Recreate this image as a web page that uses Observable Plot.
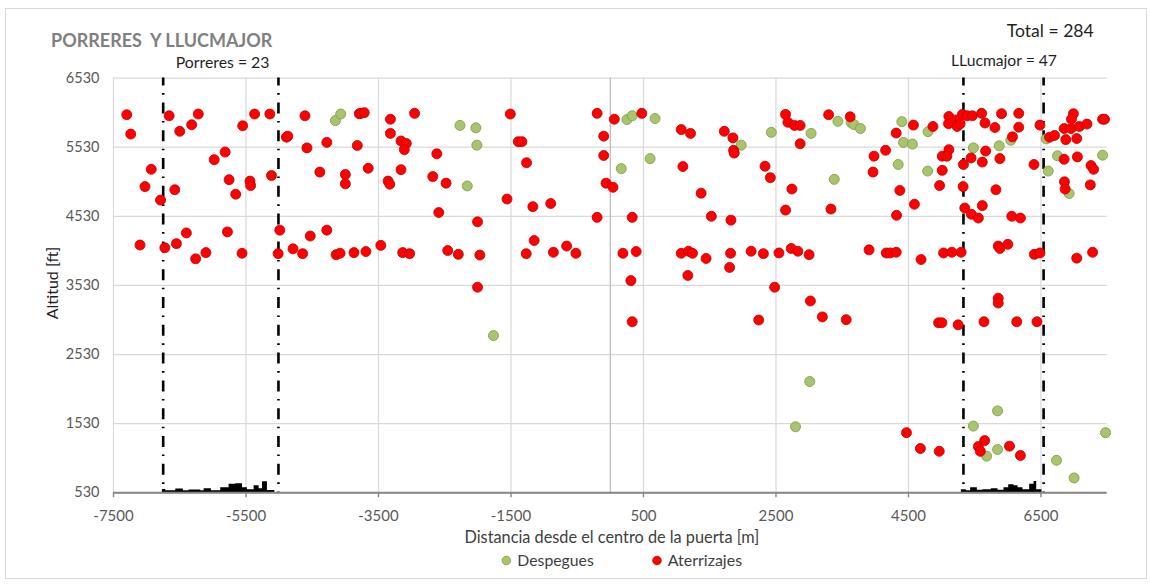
<!DOCTYPE html>
<html>
<head>
<meta charset="utf-8">
<script src="https://cdn.jsdelivr.net/npm/d3@7"></script>
<script src="https://cdn.jsdelivr.net/npm/@observablehq/plot@0.6"></script>
<style>
  html, body { margin: 0; padding: 0; background: #fff; }
  #wrap { position: relative; width: 1151px; height: 587px; font-family: Lato, "Open Sans", sans-serif; }
  #wrap > svg { position: absolute; left: 0; top: 0; }
</style>
</head>
<body>
<div id="wrap"></div>
<script>
// ---- Data ----
const xTicks = [-7500, -5500, -3500, -1500, 500, 2500, 4500, 6500];
const yTicks = [530, 1530, 2530, 3530, 4530, 5530, 6530];
const zoneBounds = [-6750, -5010, 5330, 6540];

// Despegues (take-offs)
const despX = [-4150, -4070, -2270, -2030, -2015, -2160, 250, 330, 675, 165, 600, 1975, 2430, 3030, 3435, 3635, 3675, 3775, 3380, 4400, 4425, 4560, 4345, 4795, 4790, 5480, 5870, 6045, 6580, 6610, 6750, 6925, 7430, -1765, 3010, 2795, 5480, 5845, 5845, 5680, 6735, 7000, 7475];
const despY = [5915, 6010, 5845, 5810, 5560, 4970, 5930, 5985, 5945, 5220, 5365, 5560, 5745, 5730, 5905, 5885, 5860, 5800, 5065, 5900, 5600, 5575, 5280, 5755, 5185, 5520, 5550, 5630, 5650, 5185, 5405, 4860, 5415, 2805, 2140, 1485, 1495, 1715, 1157, 1060, 1000, 745, 1400];

// Aterrizajes (landings)
const aterrX = [-7300, -7240, -6660, -6500, -6320, -6220, -5550, -5370, -5140, -4890, -4870, -4610, -4580, -4280, -3820, -3790, -3765, -3715, -3320, -3320, -3160, -3080, -3110, -2955, -2620, -2480, -2590, -2680,
  -6930, -7025, -6790, -6575, -5980, -5815, -5755, -5655, -5440, -5430, -5115, -4385, -4000, -4000, -3655, -3355, -3330, -3160,
  -7100, -6725, -6550, -6400, -6260, -6105, -5780, -5560, -4990, -5015, -4790, -4645, -4530, -4280, -4140, -4080, -3870, -3690, -3465, -3135, -3030, -2455,
  -1510, -1390, -1335, -1265, -1560, -1170, -900, -2005, -2295, -1970, -2005, -1150, -1270, -860, -660, -520,
  -200, 60, 475, -100, -100, -65, 40, -200, 330, 190, 390, 310, 330,
  1070, 1210, 1720, 1850, 1860, 1870, 1095, 1370, 1525, 1820, 1070, 1180, 1240, 1445, 1815, 1800, 1170,
  2125, 2310, 2545, 2730, 2830, 3000, 2335, 2415, 2740, 2645, 2480, 2645, 2680, 2780, 2865, 2865,
  3295, 3620, 3980, 4155, 3965, 3330, 4315, 4370, 4320, 4590, 4575, 4870,
  5110, 5105, 5220, 5235, 5280, 5315, 5385, 5465, 5605, 5655, 5905, 6165, 5805, 6165, 6070, 6485,
  5110, 5010, 5080, 5010, 4970, 5330, 5445, 5615, 5665, 5880, 5325, 5820, 5350, 5450, 5555, 5615, 6060, 6190, 6395,
  6630, 6705, 6850, 6955, 6990, 6960, 7080, 7195, 6875, 7040, 7430, 7460, 6850, 7050, 7255, 7295, 6855, 6865, 7245,
  3905, 4165, 4225, 4315, 4690, 5030, 5155, 5295, 5855, 5880, 6000, 6400, 6485, 7040, 7280,
  2240, 3020, 3200, 3560, 4955, 5005, 5250, 5855, 5855, 5640, 6135, 6440,
  4470, 4680, 4965, 5555, 5585, 5650, 6025, 6190];
const aterrY = [6000, 5720, 5985, 5760, 5855, 6010, 5840, 6010, 6010, 5675, 5690, 5985, 5520, 5600, 5555, 6015, 6020, 6030, 5935, 5730, 5620, 5585, 5495, 6020, 5435, 5010, 4585, 5105,
  5210, 4960, 4765, 4915, 5350, 5460, 5060, 4850, 5040, 4975, 5120, 5170, 5135, 5000, 5225, 5040, 4995, 5205,
  4115, 4075, 4135, 4290, 3915, 4005, 4305, 3995, 4330, 3990, 4060, 3990, 4245, 4330, 3975, 3995, 4005, 4020, 4110, 4005, 3990, 4035,
  6010, 5610, 5610, 5305, 4780, 4670, 4715, 4450, 3980, 3970, 3505, 4180, 3990, 4010, 4100, 3995,
  6020, 5935, 6020, 5690, 5410, 5010, 4950, 4515, 4515, 3995, 4020, 3600, 3005,
  5785, 5730, 5760, 5665, 5485, 5445, 5250, 4865, 4530, 4475, 3995, 4025, 3995, 3920, 3995, 3790, 3675,
  4025, 3990, 4000, 4065, 4025, 3975, 5255, 5090, 4925, 4620, 3505, 6005, 5890, 5845, 5845, 5580,
  6000, 5970, 5400, 5485, 5170, 4635, 5735, 4905, 4545, 4705, 5850, 5830,
  5975, 5870, 5925, 5830, 5870, 6005, 5985, 5985, 6020, 5880, 6015, 6020, 5815, 5820, 5680, 5850,
  5495, 5400, 5400, 5195, 4975, 5280, 5375, 5315, 5475, 5365, 4960, 4915, 4650, 4560, 4505, 4685, 4530, 4505, 5280,
  5675, 5700, 5800, 5800, 6015, 5935, 5830, 5865, 5640, 5655, 5935, 5935, 5355, 5390, 5265, 5210, 5030, 4925, 4985,
  4045, 4000, 4000, 4010, 3905, 4000, 4010, 4010, 4100, 4065, 4125, 3980, 4000, 3925, 4010,
  3030, 3305, 3075, 3035, 2990, 2990, 2960, 3345, 3275, 3005, 3005, 3005,
  1400, 1170, 1130, 1200, 1130, 1285, 1205, 1070];

// Building skylines (height above 530 ft baseline, step profile)
const porreresX = [-6762, -6711, -6560, -6445, -6359, -6183, -6132, -6022, -5881, -5755, -5654, -5553, -5478, -5377, -5302, -5251, -5176, -5065];
const porreresH = [48, 29, 54, 29, 39, 29, 58, 29, 72, 123, 130, 72, 43, 101, 58, 160, 33, 0];
const llucX = [5298, 5373, 5439, 5540, 5625, 5751, 5852, 5942, 6013, 6093, 6154, 6229, 6330, 6396, 6436, 6516];
const llucH = [43, 29, 72, 36, 43, 58, 36, 72, 116, 101, 72, 43, 123, 165, 43, 0];

const baseAlt = 530;

// ---- Build tables ----
const desp = despX.map((x, i) => ({x, y: despY[i]}));
const aterr = aterrX.map((x, i) => ({x, y: aterrY[i]}));
const porr = porreresX.map((x, i) => ({x, h: baseAlt + porreresH[i]}));
const lluc = llucX.map((x, i) => ({x, h: baseAlt + llucH[i]}));

const chart = Plot.plot({
  width: 1151,
  height: 587,
  marginTop: 77.6,
  marginBottom: 94.7,
  marginLeft: 113,
  marginRight: 44.3,
  style: {fontFamily: "Lato, 'Open Sans', sans-serif", fontSize: "14.5px", color: "#595959", background: "transparent", overflow: "visible"},
  x: {domain: [-7500, 7500]},
  y: {domain: [530, 6530]},
  marks: [
    Plot.gridX(xTicks, {stroke: "#d9d9d9", strokeOpacity: 1, strokeWidth: 1.2}),
    Plot.gridY(yTicks, {stroke: "#d9d9d9", strokeOpacity: 1, strokeWidth: 1.2}),
    Plot.ruleX([0], {stroke: "#bfbfbf", strokeWidth: 1.4}),
    Plot.areaY(porr, {x: "x", y1: baseAlt, y2: "h", curve: "step-after", fill: "#000"}),
    Plot.areaY(lluc, {x: "x", y1: baseAlt, y2: "h", curve: "step-after", fill: "#000"}),
    Plot.ruleX(zoneBounds, {y1: 6530, y2: 530, stroke: "#000", strokeWidth: 2.6, strokeDasharray: "11 7.5 1.6 7.7", strokeDashoffset: 3}),
    Plot.dot(desp, {x: "x", y: "y", r: 5, fill: "#a9c46e", stroke: "#86a048", strokeWidth: 0.9}),
    Plot.dot(aterr, {x: "x", y: "y", r: 5, fill: "#ff0000", stroke: "#c00000", strokeWidth: 0.8}),
    Plot.ruleY([530], {stroke: "#868686", strokeWidth: 2}),
    Plot.axisX(xTicks, {tickSize: 5, tickPadding: 13, stroke: "#868686", strokeWidth: 1.4, label: null, tickFormat: d => String(d), fill: "#595959", fontSize: 15}),
    Plot.axisY(yTicks, {tickSize: 0, tickPadding: 14, label: null, tickFormat: d => String(d), fill: "#595959", fontSize: 14.5})
  ]
});
document.getElementById("wrap").appendChild(chart);

// ---- Text overlay (titles, annotations, legend) ----
const ns = "http://www.w3.org/2000/svg";
const over = document.createElementNS(ns, "svg");
over.setAttribute("width", 1151);
over.setAttribute("height", 587);
over.style.fontFamily = "Lato, 'Open Sans', sans-serif";
over.innerHTML = `
  <rect x="5.5" y="8.5" width="1141" height="570" fill="none" stroke="#d9d9d9" stroke-width="1"/>
  <text x="51" y="46.5" font-size="18" font-weight="bold" fill="#808080" style="white-space:pre">PORRERES  Y LLUCMAJOR</text>
  <text x="1006.7" y="37.3" font-size="17.6" fill="#1f1f1f">Total = 284</text>
  <text x="175.7" y="68.3" font-size="15.8" fill="#1f1f1f">Porreres = 23</text>
  <text x="951" y="65.7" font-size="15.7" fill="#1f1f1f">LLucmajor = 47</text>
  <text transform="translate(57.5,283) rotate(-90)" text-anchor="middle" font-size="16" fill="#1f1f1f">Altitud [ft]</text>
  <text x="611.8" y="543.3" text-anchor="middle" font-size="16.3" fill="#404040">Distancia desde el centro de la puerta [m]</text>
  <circle cx="506.3" cy="560.5" r="4.3" fill="#a9c46e" stroke="#86a048" stroke-width="0.9"/>
  <text x="517.3" y="565.5" font-size="15.8" fill="#404040">Despegues</text>
  <circle cx="657" cy="560.5" r="4.3" fill="#ff0000" stroke="#c00000" stroke-width="0.8"/>
  <text x="667.7" y="565.5" font-size="16" fill="#404040">Aterrizajes</text>
`;
document.getElementById("wrap").appendChild(over);
</script>
</body>
</html>
